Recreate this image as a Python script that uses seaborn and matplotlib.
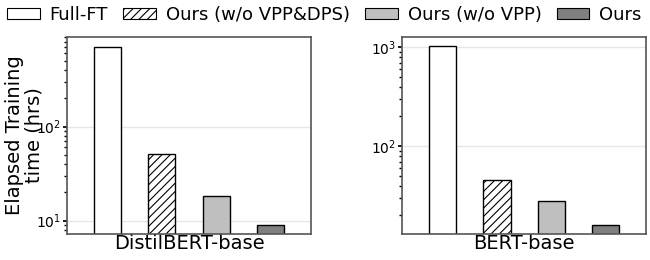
import pandas as pd
import matplotlib.pyplot as plt
import seaborn as sns
from matplotlib.patches import Patch

sns.set_theme(style='ticks')
plt.rcParams['font.family'] = ['DejaVu Sans']
plt.rcParams['hatch.linewidth'] = 0.8
plt.rcParams['text.color'] = 'black'
plt.rcParams['xtick.color'] = 'black'
plt.rcParams['ytick.color'] = 'black'
plt.rcParams['axes.labelcolor'] = 'black'

# values (hours, log scale)
models = ['DistilBERT-base', 'BERT-base']
methods = ['Full-FT', 'Ours (w/o VPP&DPS)', 'Ours (w/o VPP)', 'Ours']
distil_hours = [710, 51, 18.2, 9.0]
bert_hours = [1020, 46, 28.2, 16.0]
ylims = [(7.2, 900), (13.0, 1270)]

colors = ['white', 'white', '#bfbfbf', '#808080']
hatches = ['', '////', '', '']

df = pd.DataFrame({
    'model': [models[0]] * 4 + [models[1]] * 4,
    'method': methods * 2,
    'hours': distil_hours + bert_hours,
})

fig, axes = plt.subplots(1, 2, figsize=(6.5, 2.6), dpi=100)
fig.subplots_adjust(left=0.103, right=0.994, bottom=0.1, top=0.858, wspace=0.373)

for ax, m, lim in zip(axes, models, ylims):
    sub = df[df['model'] == m]
    sns.barplot(data=sub, x='model', y='hours', hue='method', hue_order=methods,
                palette=colors, width=0.8, gap=0.5, edgecolor='black', linewidth=1,
                saturation=1, legend=False, ax=ax)
    for p, h in zip(ax.patches, hatches):
        p.set_hatch(h)
    ax.set_yscale('log')
    ax.set_ylim(*lim)
    ax.set_xlim(-0.45, 0.45)
    ax.set_xlabel('')
    ax.set_ylabel('')
    ax.tick_params(axis='x', length=0, labelsize=14, pad=0)
    ax.tick_params(axis='y', which='major', labelsize=10, length=3, pad=1)
    ax.tick_params(axis='y', which='minor', length=2)
    ax.yaxis.grid(True, which='major', color='#e6e6e6', linewidth=1)
    ax.set_axisbelow(True)
    for s in ax.spines.values():
        s.set_color('#555555')
        s.set_linewidth(1.2)

# the label sits over the tick labels, as in the original figure
axes[0].set_ylabel('Elapsed Training\ntime (hrs)', fontsize=14, linespacing=1.0)
axes[0].yaxis.set_label_coords(-0.098, 0.5)

handles = [Patch(facecolor=c, edgecolor='black', hatch=h, linewidth=0.8)
           for c, h in zip(colors, hatches)]
fig.legend(handles, methods, loc='upper left', bbox_to_anchor=(-0.014, 1.04), ncol=4,
           frameon=False, fontsize=13, handlelength=1.8, handleheight=0.6,
           handletextpad=0.55, columnspacing=0.85)

fig.savefig('out.png', dpi=100)
